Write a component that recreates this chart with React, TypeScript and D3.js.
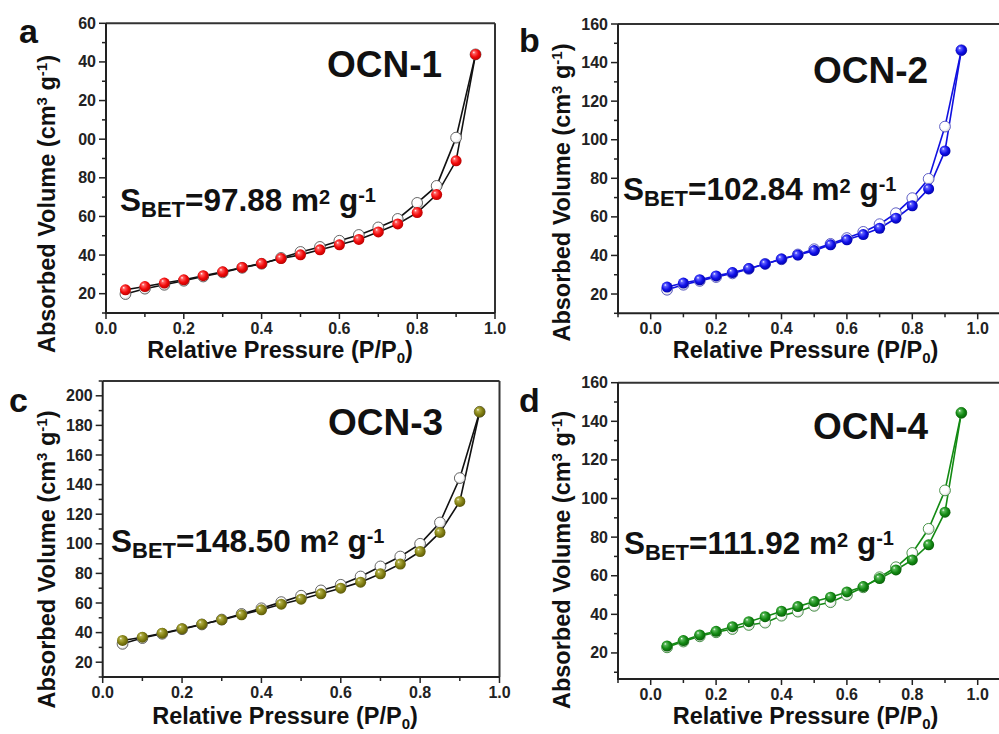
import React from "react";
import * as d3 from "d3";

// ---------- data ----------
const pressure = [0.05, 0.1, 0.15, 0.2, 0.25, 0.3, 0.35, 0.4, 0.45, 0.5, 0.55, 0.6, 0.65, 0.7, 0.75, 0.8, 0.85, 0.9, 0.95];

const ocn1Ads = [22.0, 23.7, 25.5, 27.2, 29.3, 31.3, 33.6, 35.6, 38.2, 40.1, 42.7, 45.3, 48.1, 52.0, 56.1, 62.0, 71.3, 88.8, 143.9];
const ocn1Des = [19.8, 22.6, 24.6, 26.7, 28.9, 31.0, 33.4, 35.5, 38.5, 41.6, 44.2, 47.4, 50.4, 54.3, 58.7, 67.0, 75.8, 100.8, 143.9];

const ocn2Ads = [23.6, 25.7, 27.4, 29.4, 31.1, 33.2, 35.6, 38.1, 40.2, 42.5, 45.5, 48.1, 50.8, 54.1, 59.3, 65.7, 74.5, 94.2, 146.4];
const ocn2Des = [22.2, 24.8, 26.8, 28.8, 30.7, 33.0, 35.6, 38.0, 40.5, 43.2, 46.0, 49.0, 52.2, 56.2, 61.9, 69.7, 79.7, 106.8, 146.4];

const ocn3Ads = [34.7, 36.9, 39.6, 42.6, 45.7, 48.6, 52.0, 55.4, 59.2, 62.6, 66.2, 70.0, 74.1, 79.7, 86.3, 94.8, 107.7, 128.6, 189.2];
const ocn3Des = [32.4, 36.3, 39.2, 42.3, 45.5, 48.8, 52.6, 56.4, 60.6, 64.9, 68.5, 72.3, 77.9, 84.7, 91.4, 100.0, 114.4, 144.4, 189.2];

const ocn4Ads = [23.6, 26.4, 29.3, 31.2, 33.6, 36.2, 38.8, 41.6, 44.0, 46.6, 48.9, 51.6, 54.4, 58.5, 63.0, 68.2, 76.0, 92.9, 144.4];
const ocn4Des = [22.9, 25.9, 28.6, 30.7, 32.4, 34.5, 35.7, 39.3, 41.4, 44.4, 46.3, 50.0, 54.0, 59.2, 64.4, 71.8, 84.3, 104.2, 144.4];

const xTicks = [0, 0.2, 0.4, 0.6, 0.8, 1.0];
const xTickLabels = ["0.0", "0.2", "0.4", "0.6", "0.8", "1.0"];
const yTicks160 = [20, 40, 60, 80, 100, 120, 140, 160];
const yTickLabelsA = ["20", "40", "60", "80", "00", "20", "40", "60"];
const yTickLabels160 = ["20", "40", "60", "80", "100", "120", "140", "160"];
const yTicks200 = [20, 40, 60, 80, 100, 120, 140, 160, 180, 200];
const yTickLabels200 = ["20", "40", "60", "80", "100", "120", "140", "160", "180", "200"];

const sampleNames = ["OCN-1", "OCN-2", "OCN-3", "OCN-4"];
const panelLetters = ["a", "b", "c", "d"];
const sbetValues = ["97.88", "102.84", "148.50", "111.92"];

const FONT = "'Liberation Sans', Arial, Helvetica, sans-serif";

type PanelProps = {
  idx: number;
  xRange: [number, number];
  xDomain: [number, number];
  yRange: [number, number]; // [bottom, top]
  yDomain: [number, number];
  yTicks: number[];
  yTickLabels: string[];
  ads: number[];
  des: number[];
  lineColor: string;
  fillId: string;
  openStroke: string;
  frameRight: number;
  letterPos: [number, number];
  namePos: [number, number];
  sbetPos: [number, number];
  yLabelPos: [number, number];
  xLabelPos: [number, number];
};

function Panel(p: PanelProps) {
  const x = d3.scaleLinear().domain(p.xDomain).range(p.xRange);
  const y = d3.scaleLinear().domain(p.yDomain).range(p.yRange);
  const left = p.xRange[0];
  const bottom = p.yRange[0];
  const top = p.yRange[1];
  const right = p.frameRight;
  const line = d3
    .line<number>()
    .x((_, i) => x(pressure[i]))
    .y((v) => y(v));

  const minorX: number[] = [];
  for (let v = Math.ceil(p.xDomain[0] * 10) / 10; v <= p.xDomain[1] + 1e-9; v += 0.1) {
    const r = Math.round(v * 10) / 10;
    if (Math.abs(Math.round(r * 10)) % 2 === 1) minorX.push(r);
  }
  const minorY: number[] = [];
  for (let v = 10; v <= p.yDomain[1]; v += 20) {
    if (v >= p.yDomain[0]) minorY.push(v);
  }
  const tickColor = "#222";

  return (
    <g>
      {/* frame */}
      <line x1={left} x2={right} y1={top} y2={top} stroke="#333" strokeWidth={2} />
      <line x1={right} x2={right} y1={top} y2={bottom} stroke="#333" strokeWidth={2} />
      <line x1={left} x2={right} y1={bottom} y2={bottom} stroke={tickColor} strokeWidth={2} />
      <line x1={left} x2={left} y1={top} y2={bottom + 1} stroke={tickColor} strokeWidth={2} />

      {/* x ticks */}
      {xTicks.map((t, i) => (
        <g key={"xt" + i}>
          <line x1={x(t)} x2={x(t)} y1={bottom} y2={bottom + 6} stroke={tickColor} strokeWidth={1.5} />
          <text x={x(t)} y={bottom + 21} textAnchor="middle" fontSize={16} fontWeight="bold" fill="#222" fontFamily={FONT}>
            {xTickLabels[i]}
          </text>
        </g>
      ))}
      {minorX.map((t, i) => (
        <line key={"xm" + i} x1={x(t)} x2={x(t)} y1={bottom} y2={bottom + 4} stroke={tickColor} strokeWidth={1.5} />
      ))}
      {/* y ticks */}
      {p.yTicks.map((t, i) => (
        <g key={"yt" + i}>
          <line x1={left - 7} x2={left} y1={y(t)} y2={y(t)} stroke={tickColor} strokeWidth={1.5} />
          <text x={left - 10} y={y(t) + 5.5} textAnchor="end" fontSize={16} fontWeight="bold" fill="#222" fontFamily={FONT}>
            {p.yTickLabels[i]}
          </text>
        </g>
      ))}
      {minorY.map((t, i) => (
        <line key={"ym" + i} x1={left - 4} x2={left} y1={y(t)} y2={y(t)} stroke={tickColor} strokeWidth={1.5} />
      ))}

      {/* desorption */}
      <path d={line(p.des) || ""} fill="none" stroke={p.lineColor} strokeWidth={1.6} />
      {/* adsorption */}
      <path d={line(p.ads) || ""} fill="none" stroke={p.lineColor} strokeWidth={1.6} />
      {p.des.map((v, i) => (
        <circle key={"d" + i} cx={x(pressure[i])} cy={y(v)} r={5.4} fill="url(#gWhite)" stroke={p.openStroke} strokeWidth={0.9} />
      ))}
      {p.ads.map((v, i) => (
        <circle key={"a" + i} cx={x(pressure[i])} cy={y(v)} r={5.5} fill={`url(#${p.fillId})`} />
      ))}

      {/* annotations */}
      <text x={p.letterPos[0]} y={p.letterPos[1]} fontSize={34} fontWeight="bold" fill="#111" fontFamily={FONT}>
        {panelLetters[p.idx]}
      </text>
      <text x={p.namePos[0]} y={p.namePos[1]} fontSize={37} fontWeight="bold" fill="#111" fontFamily={FONT}>
        {sampleNames[p.idx]}
      </text>
      <text x={p.sbetPos[0]} y={p.sbetPos[1]} fontSize={31.5} fontWeight="bold" fill="#111" fontFamily={FONT}>
        S
        <tspan fontSize={22} dy={6}>BET</tspan>
        <tspan dy={-6}>{"=" + sbetValues[p.idx] + " m"}</tspan>
        <tspan fontSize={20} dy={-7}>2</tspan>
        <tspan dy={7}>{" g"}</tspan>
        <tspan fontSize={20} dy={-9}>-1</tspan>
      </text>
      <text
        transform={`translate(${p.yLabelPos[0]},${p.yLabelPos[1]}) rotate(-90)`}
        textAnchor="middle"
        fontSize={23.5}
        fontWeight="bold"
        fill="#111"
        fontFamily={FONT}
      >
        Absorbed Volume (cm
        <tspan fontSize={15} dy={-8}>3</tspan>
        <tspan dy={8}>{" g"}</tspan>
        <tspan fontSize={15} dy={-8}>-1</tspan>
        <tspan dy={8}>)</tspan>
      </text>
      <text x={p.xLabelPos[0]} y={p.xLabelPos[1]} textAnchor="middle" fontSize={23.5} fontWeight="bold" fill="#111" fontFamily={FONT}>
        Relative Pressure (P/P
        <tspan fontSize={15} dy={5}>0</tspan>
        <tspan dy={-5}>)</tspan>
      </text>
    </g>
  );
}

function Sphere({ id, light, base, dark }: { id: string; light: string; base: string; dark: string }) {
  return (
    <radialGradient id={id} cx="0.45" cy="0.45" r="0.6" fx="0.33" fy="0.3">
      <stop offset="0" stopColor="#ffffff" />
      <stop offset="0.2" stopColor={light} />
      <stop offset="0.6" stopColor={base} />
      <stop offset="1" stopColor={dark} />
    </radialGradient>
  );
}

export default function App() {
  return (
    <svg width={999} height={734} style={{ position: "absolute", left: 0, top: 0, background: "#fff" }}>
      <defs>
        <Sphere id="gRed" light="#ff6060" base="#f20a0a" dark="#b00000" />
        <Sphere id="gBlue" light="#6060ff" base="#1010e8" dark="#0000a0" />
        <Sphere id="gOlive" light="#b0ae48" base="#838012" dark="#55530a" />
        <Sphere id="gGreen" light="#58b858" base="#138a13" dark="#075a07" />
        <radialGradient id="gWhite" cx="0.45" cy="0.45" r="0.6" fx="0.35" fy="0.3">
          <stop offset="0" stopColor="#ffffff" />
          <stop offset="0.6" stopColor="#ffffff" />
          <stop offset="1" stopColor="#d0d0d0" />
        </radialGradient>
      </defs>
      <rect x={0} y={0} width={999} height={734} fill="#fff" />
      <Panel
        idx={0}
        xRange={[106, 495]}
        xDomain={[0, 1]}
        yRange={[313, 23.3]}
        yDomain={[10, 160]}
        yTicks={yTicks160}
        yTickLabels={yTickLabelsA}
        ads={ocn1Ads}
        des={ocn1Des}
        lineColor="#111"
        fillId="gRed"
        openStroke="#555"
        frameRight={495}
        letterPos={[19, 43]}
        namePos={[327, 77]}
        sbetPos={[120, 211]}
        yLabelPos={[55, 204]}
        xLabelPos={[280, 358]}
      />
      <Panel
        idx={1}
        xRange={[618, 1010.4]}
        xDomain={[-0.1, 1.1]}
        yRange={[313.3, 24]}
        yDomain={[10, 160]}
        yTicks={yTicks160}
        yTickLabels={yTickLabels160}
        ads={ocn2Ads}
        des={ocn2Des}
        lineColor="#1010e0"
        fillId="gBlue"
        openStroke="#5050c0"
        frameRight={1010}
        letterPos={[519, 52]}
        namePos={[813, 83]}
        sbetPos={[623, 200]}
        yLabelPos={[570, 192.5]}
        xLabelPos={[805.5, 358]}
      />
      <Panel
        idx={2}
        xRange={[102.7, 499.5]}
        xDomain={[0, 1]}
        yRange={[677, 381]}
        yDomain={[10, 210]}
        yTicks={yTicks200}
        yTickLabels={yTickLabels200}
        ads={ocn3Ads}
        des={ocn3Des}
        lineColor="#111"
        fillId="gOlive"
        openStroke="#555"
        frameRight={499.5}
        letterPos={[9, 412]}
        namePos={[328, 435]}
        sbetPos={[111, 552]}
        yLabelPos={[55, 559.5]}
        xLabelPos={[285, 724]}
      />
      <Panel
        idx={3}
        xRange={[618, 1010.4]}
        xDomain={[-0.1, 1.1]}
        yRange={[679, 382.7]}
        yDomain={[6.5, 160]}
        yTicks={yTicks160}
        yTickLabels={yTickLabels160}
        ads={ocn4Ads}
        des={ocn4Des}
        lineColor="#138a13"
        fillId="gGreen"
        openStroke="#3a8a3a"
        frameRight={1010}
        letterPos={[519, 412]}
        namePos={[813, 439]}
        sbetPos={[624, 554]}
        yLabelPos={[570, 560]}
        xLabelPos={[805.5, 724]}
      />
    </svg>
  );
}
